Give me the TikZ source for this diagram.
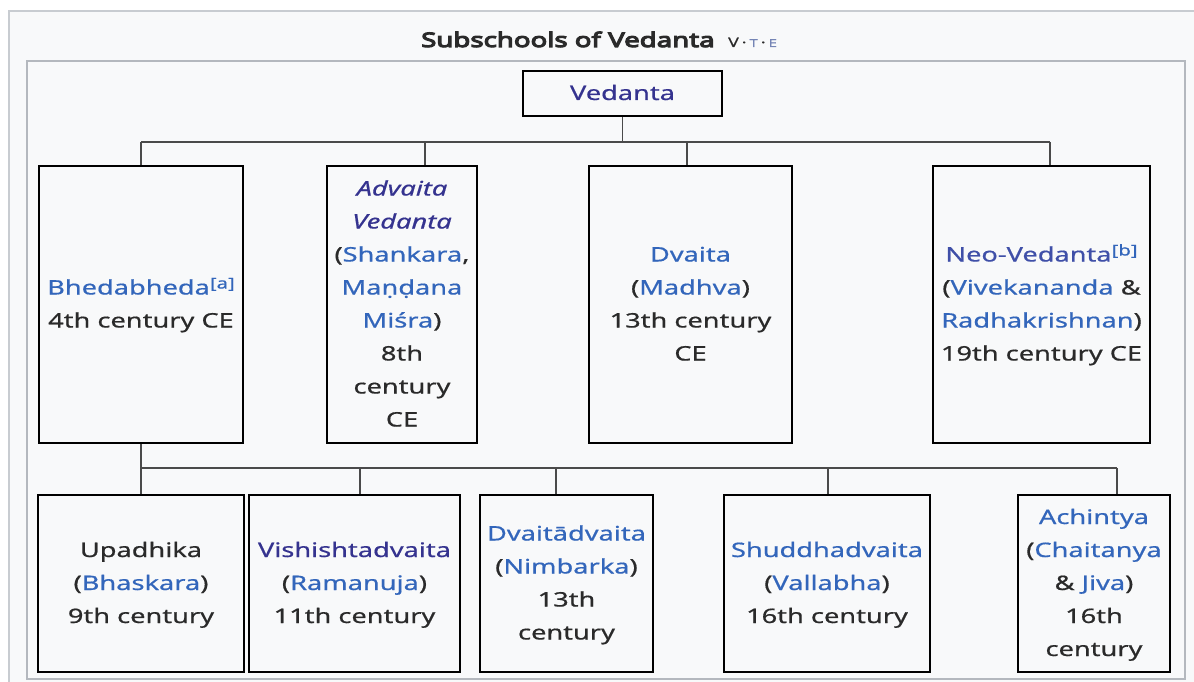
\documentclass[tikz,border=0pt]{standalone}
\usepackage{fontspec}
\setmainfont{Noto Sans}[FakeStretch=1.36,FakeBold=0.6]
\newfontfamily\titlefont{Noto Sans}[FakeStretch=1.38,FakeBold=5.5]
\definecolor{link}{HTML}{3366BB}
\definecolor{visited}{HTML}{35338F}
\definecolor{neo}{HTML}{3F4FA8}
\definecolor{txt}{HTML}{2A2A2A}
\definecolor{bg}{HTML}{F8F9FA}
\definecolor{framec}{HTML}{C8CCD1}
\definecolor{innerc}{HTML}{B4B8BE}
\definecolor{connc}{HTML}{4A4A4A}
\definecolor{tlink}{HTML}{7585B5}
\newcommand\st{\rule[-10pt]{0pt}{33pt}}
\newcommand\lk[1]{\textcolor{link}{#1}}
\newcommand\vs[1]{\textcolor{visited}{#1}}
\newcommand\note[1]{\raisebox{6pt}{\fontsize{15}{15}\selectfont\color{link}[#1]}}
\begin{document}
\begin{tikzpicture}[x=1pt,y=-1pt,
  box/.style={draw=black, line width=2.3pt, fill=bg, rectangle, inner sep=0pt,
    align=center, text=txt, font=\fontsize{20}{33}\selectfont},
  link/.style={draw=connc, line width=1.3pt},
  outerframe/.style={draw=framec, line width=1.2pt, fill=bg},
  innerframe/.style={draw=innerc, line width=1.2pt, fill=bg}]
\useasboundingbox (0,0) rectangle (1194,682);
\clip (0,0) rectangle (1194,682);
\fill[white] (0,0) rectangle (1194,682);
\draw[outerframe] (9,11) rectangle (1203,700);
\draw[innerframe] (27,61) rectangle (1185,679);
% title
\node[anchor=base west, inner sep=0pt, text=txt, font=\titlefont\fontsize{20}{24}\selectfont] (title) at (421,47) {Subschools of Vedanta};
\node[anchor=base west, inner sep=0pt, text=txt, font=\fontsize{13}{14}\selectfont] (vte) at (728,47)
  {V\hspace{3pt}·\hspace{3pt}\textcolor{tlink}{\fontsize{11}{12}\selectfont T}\hspace{3pt}·\hspace{3pt}\textcolor{tlink}{\fontsize{11}{12}\selectfont E}};
% root
\node[box, minimum width=199pt, minimum height=45pt] (ved) at (622.5,93.5) {\st\vs{Vedanta}};
% top row
\node[box, minimum width=204pt, minimum height=277pt] (bh) at (141,304.5)
  {\st\lk{Bhedabheda}\note{a}\\\st 4th century CE};
\node[box, minimum width=150pt, minimum height=277pt] (adv) at (402,304.5)
  {\st\vs{\itshape Advaita}\\\st\vs{\itshape Vedanta}\\\st(\lk{Shankara},\\\st\lk{Maṇḍana}\\\st\lk{Miśra})\\\st 8th\\\st century\\\st CE};
\node[box, minimum width=203pt, minimum height=277pt] (dv) at (690.5,304.5)
  {\st\lk{Dvaita}\\\st(\lk{Madhva})\\\st 13th century\\\st CE};
\node[box, minimum width=217pt, minimum height=277pt] (neo) at (1041.5,304.5)
  {\st\textcolor{neo}{Neo-Vedanta}\note{b}\\\st(\lk{Vivekananda} \&\\\st\lk{Radhakrishnan})\\\st 19th century CE};
% bottom row
\node[box, minimum width=206pt, minimum height=177pt] (upa) at (141,583.5)
  {\st Upadhika\\\st(\lk{Bhaskara})\\\st 9th century};
\node[box, minimum width=211pt, minimum height=177pt] (vis) at (354.5,583.5)
  {\st\vs{Vishishtadvaita}\\\st(\lk{Ramanuja})\\\st 11th century};
\node[box, minimum width=173pt, minimum height=177pt] (dva) at (566.5,583.5)
  {\st\lk{Dvaitādvaita}\\\st(\lk{Nimbarka})\\\st 13th\\\st century};
\node[box, minimum width=206pt, minimum height=177pt] (shu) at (827,583.5)
  {\st\lk{Shuddhadvaita}\\\st(\lk{Vallabha})\\\st 16th century};
\node[box, minimum width=152pt, minimum height=177pt] (ach) at (1094,583.5)
  {\st\lk{Achintya}\\\st(\lk{Chaitanya}\\\st\& \lk{Jiva})\\\st 16th\\\st century};
% top connectors
\coordinate (t0) at (622.5,142);
\coordinate (t1) at (141,142);
\coordinate (t2) at (425,142);
\coordinate (t3) at (687,142);
\coordinate (t4) at (1050,142);
\draw[link] (ved.south) -- (t0);
\draw[link] (t1) -- (t4);
\draw[link] (t1) -- (t1 |- bh.north);
\draw[link] (t2) -- (t2 |- adv.north);
\draw[link] (t3) -- (t3 |- dv.north);
\draw[link] (t4) -- (t4 |- neo.north);
% bottom connectors
\coordinate (b1) at (141,468);
\coordinate (b2) at (360,468);
\coordinate (b3) at (556,468);
\coordinate (b4) at (828,468);
\coordinate (b5) at (1117,468);
\draw[link] (bh.south) -- (upa.north);
\draw[link] (b1) -- (b5);
\draw[link] (b2) -- (b2 |- vis.north);
\draw[link] (b3) -- (b3 |- dva.north);
\draw[link] (b4) -- (b4 |- shu.north);
\draw[link] (b5) -- (b5 |- ach.north);
\end{tikzpicture}
\end{document}
